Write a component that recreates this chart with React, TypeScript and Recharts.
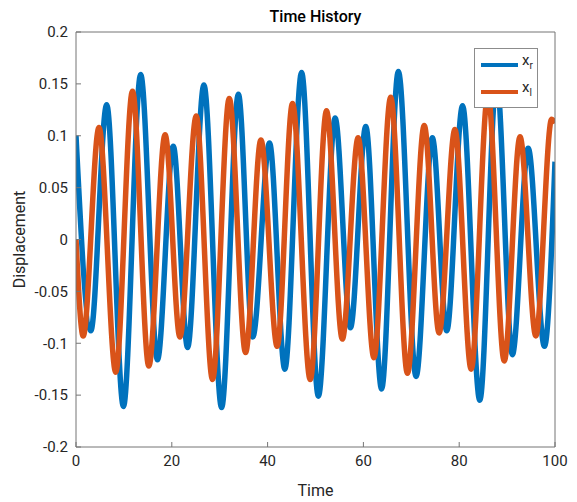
import { LineChart, Line, XAxis, YAxis, Label } from "recharts";

// x_r (blue) extrema
const rTime = [0, 3.1, 6.4, 9.9, 13.5, 17.0, 20.3, 23.3, 26.7, 30.4, 33.9, 36.9, 40.4, 43.6, 47.1, 50.6, 54.1, 57.3, 60.5, 63.8, 67.3, 71.0, 74.4, 77.4, 80.7, 84.3, 87.8, 91.1, 94.4, 97.8, 100];
const rDisp = [0.1, -0.088, 0.13, -0.161, 0.159, -0.116, 0.09, -0.104, 0.149, -0.162, 0.14, -0.094, 0.093, -0.125, 0.161, -0.151, 0.117, -0.085, 0.109, -0.144, 0.162, -0.132, 0.098, -0.088, 0.129, -0.155, 0.155, -0.111, 0.088, -0.103, 0.075];

// x_l (orange)
const lTime = [0, 1.5, 4.8, 8.3, 11.8, 15.2, 18.6, 21.7, 25.1, 28.5, 32.0, 35.4, 38.6, 42.0, 45.2, 48.9, 52.3, 55.6, 58.9, 62.2, 65.7, 69.2, 72.7, 75.8, 79.1, 82.5, 86.0, 89.4, 92.7, 96.0, 99.3, 100];
const lDisp = [0, -0.093, 0.108, -0.128, 0.143, -0.122, 0.101, -0.094, 0.119, -0.135, 0.136, -0.109, 0.096, -0.103, 0.131, -0.135, 0.124, -0.096, 0.098, -0.114, 0.137, -0.129, 0.11, -0.09, 0.106, -0.125, 0.14, -0.117, 0.099, -0.093, 0.116, 0.112];

const xTicks = [0, 20, 40, 60, 80, 100];
const yTicks = [-0.2, -0.15, -0.1, -0.05, 0, 0.05, 0.1, 0.15, 0.2];

const BLUE = "#0072BD";
const ORANGE = "#D95319";
const AXIS = "#757575";
const TEXT = "#262626";
const FONT = "Roboto, sans-serif";

const rData = rTime.map((t, i) => ({ t, v: rDisp[i] }));
const lData = lTime.map((t, i) => ({ t, v: lDisp[i] }));

const fmt = (v: number) => String(Math.round(v * 100) / 100);

const LegendBox = () => (
  <div
    style={{
      position: "absolute",
      left: 474,
      top: 48,
      width: 64,
      height: 60,
      border: "1px solid #8c8c8c",
      background: "#fff",
      fontFamily: FONT,
      color: TEXT,
      boxSizing: "border-box"
    }}
  >
    {[
      { c: BLUE, sub: "r", top: 14 },
      { c: ORANGE, sub: "l", top: 41 }
    ].map((it) => (
      <div key={it.sub}>
        <div
          style={{
            position: "absolute",
            left: 6,
            top: it.top,
            width: 37,
            height: 3.5,
            background: it.c
          }}
        />
        <div
          style={{
            position: "absolute",
            left: 47,
            top: it.top - 11,
            fontSize: 15,
            lineHeight: "16px"
          }}
        >
          x<sub style={{ fontSize: 10, verticalAlign: "-4px" }}>{it.sub}</sub>
        </div>
      </div>
    ))}
  </div>
);

export default function App() {
  return (
    <div style={{ position: "absolute", left: 0, top: 0, background: "#fff" }}>
      <LineChart
        width={577}
        height={502}
        margin={{ top: 0, right: 0, bottom: 0, left: 0 }}
        style={{ fontFamily: FONT }}
      >
        <XAxis
          dataKey="t"
          type="number"
          domain={[0, 100]}
          ticks={xTicks}
          height={55}
          stroke={AXIS}
          tickSize={-5}
          tickMargin={13}
          tick={{ fill: TEXT, fontSize: 15 }}
          allowDataOverflow
        >
          <Label value="Time" position="insideBottom" offset={6} style={{ fill: TEXT, fontSize: 16 }} />
        </XAxis>
        <XAxis
          xAxisId="top"
          orientation="top"
          type="number"
          domain={[0, 100]}
          ticks={xTicks}
          height={32}
          stroke={AXIS}
          tickSize={-5}
          tick={false}
          allowDataOverflow
        >
          <Label
            value="Time History"
            position="insideTop"
            offset={11}
            style={{ fill: "#000", fontSize: 16, fontWeight: 500 }}
          />
        </XAxis>
        <YAxis
          type="number"
          domain={[-0.2, 0.2]}
          ticks={yTicks}
          width={76}
          stroke={AXIS}
          tickSize={-5}
          tickMargin={13}
          tickFormatter={fmt}
          tick={{ fill: TEXT, fontSize: 15 }}
          allowDataOverflow
        >
          <Label
            value="Displacement"
            angle={-90}
            position="insideLeft"
            offset={19}
            style={{ fill: TEXT, fontSize: 16, textAnchor: "middle" }}
          />
        </YAxis>
        <YAxis
          yAxisId="right"
          orientation="right"
          type="number"
          domain={[-0.2, 0.2]}
          ticks={yTicks}
          width={22}
          stroke={AXIS}
          tickSize={-5}
          tick={false}
          allowDataOverflow
        />
        <Line
          data={rData}
          dataKey="v"
          name="x_r"
          type="monotone"
          stroke={BLUE}
          strokeWidth={5.5}
          dot={false}
          isAnimationActive={false}
        />
        <Line
          data={lData}
          dataKey="v"
          name="x_l"
          type="monotone"
          stroke={ORANGE}
          strokeWidth={5.5}
          dot={false}
          isAnimationActive={false}
        />
      </LineChart>
      <LegendBox />
    </div>
  );
}
